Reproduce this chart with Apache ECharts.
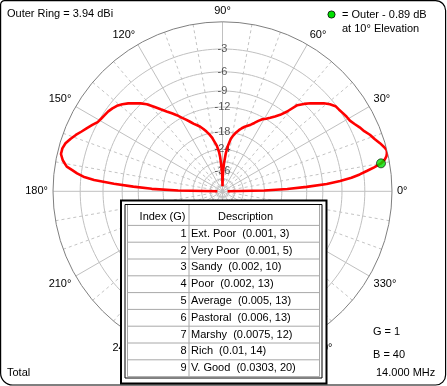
<!DOCTYPE html>
<html><head><meta charset="utf-8">
<script src="https://cdn.jsdelivr.net/npm/echarts@6/dist/echarts.min.js"></script>
<style>html,body{margin:0;padding:0;background:#fff}#c{width:447px;height:386px}</style>
</head><body><div id="c"></div>
<script>
// ---- data (dB relative to outer ring, ARRL log scale) ----
const outerRingDbi = 3.94;
const elevRight = [0,1,2,3,4,5,6,7,8,9,10,11,12,13,14,15,17,19,21,23,25,27,29,31,33,35,37,39,41,43,45,47,49,51,53,55,57,59,61,63,65,67,69,71,73,75,77,79,81,83,85,87,88,89,90];
const gainRight = [-60,-24,-16.5,-12,-8.3,-6.2,-4.6,-3.5,-2.6,-1.7,-0.89,-0.45,-0.2,-0.08,-0.02,-0.15,-0.5,-0.9,-1.22,-1.65,-1.95,-2.3,-2.6,-2.7,-2.85,-3.0,-3.1,-3.5,-4.0,-4.7,-5.3,-6.0,-6.8,-8.6,-9.8,-10.6,-11.3,-11.9,-12.4,-13.1,-13.9,-14.6,-15.1,-15.6,-16.2,-16.9,-17.7,-18.7,-19.9,-22.2,-25.5,-31,-36,-42,-60];
const elevLeft = [91,92,93,94,95,97,99,101,103,105,107,109,111,113,115,117,119,121,123,125,127,129,131,133,135,137,139,141,143,145,147,149,151,153,155,157,159,161,163,165,167,169,171,172,173,174,175,176,177,178,179,180];
const gainLeft = [-42,-36,-31,-27.2,-25,-22.5,-21.0,-19.4,-18.3,-17.3,-16.4,-15.6,-15.0,-14.4,-13.6,-12.8,-12.0,-11.1,-10.3,-9.5,-8.6,-7.6,-6.6,-5.9,-5.3,-4.7,-4.2,-3.8,-3.55,-3.35,-3.25,-3.12,-2.95,-2.55,-2.15,-1.75,-1.3,-0.9,-0.55,-0.38,-0.38,-0.7,-1.24,-1.9,-2.5,-3.3,-4.7,-7.6,-11,-15,-23,-60];
const ringLevels = [-3,-6,-9,-12,-18,-24,-30,-36,-45];
const ringLabels = [-3,-6,-9,-12,-18,-24,-36];
const markerElev = 10;
const markerRel = -0.89;
const groundIndex = [1,2,3,4,5,6,7,8,9];
const groundNames = ['Ext. Poor','Very Poor','Sandy','Poor','Average','Pastoral','Marshy','Rich','V. Good'];
const groundParams = ['(0.001, 3)','(0.001, 5)','(0.002, 10)','(0.002, 13)','(0.005, 13)','(0.006, 13)','(0.0075, 12)','(0.01, 14)','(0.0303, 20)'];
const tableHeaders = ['Index (G)','Description'];
const gText = 'G = 1', bText = 'B = 40', freqText = '14.000 MHz', patternText = 'Total';

// ARRL log scale: radius factor 0.89 per 2 dB
function arrl(db){ return Math.pow(0.89, -db/2); }

const FONT = '11px "Liberation Sans", Arial, sans-serif';
const chart = echarts.init(document.getElementById('c'), null, {renderer:'canvas'});

const pattern = elevRight.map((e,i)=>[arrl(gainRight[i]), e])
  .concat(elevLeft.map((e,i)=>[arrl(gainLeft[i]), e]));

const ringSeries = ringLevels.map(L=>{
  const d=[]; for(let a=0;a<=360;a+=2) d.push([arrl(L),a]);
  return {type:'line',coordinateSystem:'polar',polarIndex:0,data:d,showSymbol:false,silent:true,
    lineStyle:{color:'#c0c0c0',width:1},z:1,animation:false};
});

function txt(text,x,y,align,extra){
  return Object.assign({type:'text',z:200,style:{text:text,x:x,y:y,font:FONT,fill:'#000',
    textAlign:align||'left',align:align||'left',textVerticalAlign:'middle',verticalAlign:'middle'}},extra||{});
}

const graphics = [];
// frame
graphics.push({type:'rect',z:300,shape:{x:0.6,y:0.6,width:445,height:384.4,r:[4,10,10,12]},
  style:{fill:'none',stroke:'#000',lineWidth:1.2}});
// header texts
graphics.push(txt('Outer Ring = '+outerRingDbi.toFixed(2)+' dBi',7,14));
graphics.push({type:'circle',z:200,shape:{cx:331.5,cy:14.5,r:3.6},style:{fill:'#00e000',stroke:'#000',lineWidth:0.8}});
graphics.push(txt('= Outer - '+Math.abs(markerRel).toFixed(2)+' dB',342,14.5));
graphics.push(txt('at '+markerElev+'° Elevation',342,29));
graphics.push(txt(patternText,7,372.5));
graphics.push(txt(gText,373,332));
graphics.push(txt(bText,373,355));
graphics.push(txt(freqText,376,372.5));
// table
const tx0=121, ty0=200.5, tx1=326.5, ty1=383.5;
graphics.push({type:'rect',z:100,shape:{x:tx0,y:ty0,width:tx1-tx0,height:ty1-ty0},style:{fill:'#fff',stroke:'#000',lineWidth:2}});
graphics.push({type:'rect',z:101,shape:{x:125,y:204.5,width:197,height:173.5},style:{fill:'none',stroke:'#000',lineWidth:1}});
const headBottom=225.4, rowH=16.8;
const cellL=127.5, cellDiv=189, cellR=319.5;
const gray='#a8a8a8';
graphics.push({type:'line',z:102,shape:{x1:cellL,y1:205,x2:cellL,y2:headBottom+rowH*groundIndex.length},style:{stroke:gray,lineWidth:1}});
graphics.push({type:'line',z:102,shape:{x1:cellDiv,y1:205,x2:cellDiv,y2:headBottom+rowH*groundIndex.length},style:{stroke:gray,lineWidth:1}});
graphics.push({type:'line',z:102,shape:{x1:cellR,y1:205,x2:cellR,y2:headBottom+rowH*groundIndex.length},style:{stroke:gray,lineWidth:1}});
for(let k=0;k<=groundIndex.length;k++){
  const y=headBottom+k*rowH;
  graphics.push({type:'line',z:102,shape:{x1:cellL,y1:y,x2:cellR,y2:y},style:{stroke:gray,lineWidth:1}});
}
graphics.push(txt(tableHeaders[0],162.5,217,'center'));
graphics.push(txt(tableHeaders[1],245.5,217,'center'));
groundIndex.forEach((g,i)=>{
  const y=headBottom+rowH*(i+0.5);
  graphics.push(txt(String(g),186.5,y,'right'));
  graphics.push(txt(groundNames[i]+'  '+groundParams[i],191,y,'left'));
});

const option = {
  animation:false,
  backgroundColor:'#fff',
  polar:[{center:[222.5,191.3],radius:169.5},{center:[222.5,191.3],radius:169.5}],
  angleAxis:[{
    polarIndex:0,type:'value',min:0,max:360,interval:30,startAngle:0,clockwise:false,z:2,
    axisLine:{show:true,lineStyle:{color:'#808080',width:1}},
    axisTick:{show:false},
    axisLabel:{show:true,margin:5,color:'#000',fontSize:11,fontFamily:'"Liberation Sans", Arial, sans-serif',
      formatter:v=> v===360?'':v+'°'},
    splitLine:{show:true,lineStyle:{color:'#c0c0c0',width:1}}
  },{
    polarIndex:1,type:'value',min:0,max:360,interval:10,startAngle:0,clockwise:false,z:1,
    axisLine:{show:false},axisTick:{show:false},axisLabel:{show:false},
    splitLine:{show:true,lineStyle:{color:['rgba(0,0,0,0)','#c4c4c4','#c4c4c4'],width:1,type:[3,3]}}
  }],
  radiusAxis:[{polarIndex:0,type:'value',min:0,max:1,axisLine:{show:false},axisTick:{show:false},axisLabel:{show:false},splitLine:{show:false}},
              {polarIndex:1,type:'value',min:0,max:1,axisLine:{show:false},axisTick:{show:false},axisLabel:{show:false},splitLine:{show:false}}],
  series: ringSeries.concat([
    {type:'scatter',coordinateSystem:'polar',polarIndex:0,silent:true,z:3,symbolSize:0,
      data:ringLabels.map(L=>[arrl(L),90]),
      label:{show:true,position:'inside',color:'#303030',fontSize:11,fontFamily:'"Liberation Sans", Arial, sans-serif',
        formatter:p=>String(ringLabels[p.dataIndex])}},
    {type:'line',coordinateSystem:'polar',polarIndex:0,data:pattern,showSymbol:false,silent:true,z:5,
      lineStyle:{color:'#ff0000',width:2.6}},
    {type:'scatter',coordinateSystem:'polar',polarIndex:0,silent:true,z:6,symbolSize:9,
      data:[[arrl(markerRel),markerElev]],itemStyle:{color:'#00e000',borderColor:'#000',borderWidth:0.8}}
  ]),
  graphic:graphics
};
chart.setOption(option);
</script></body></html>
